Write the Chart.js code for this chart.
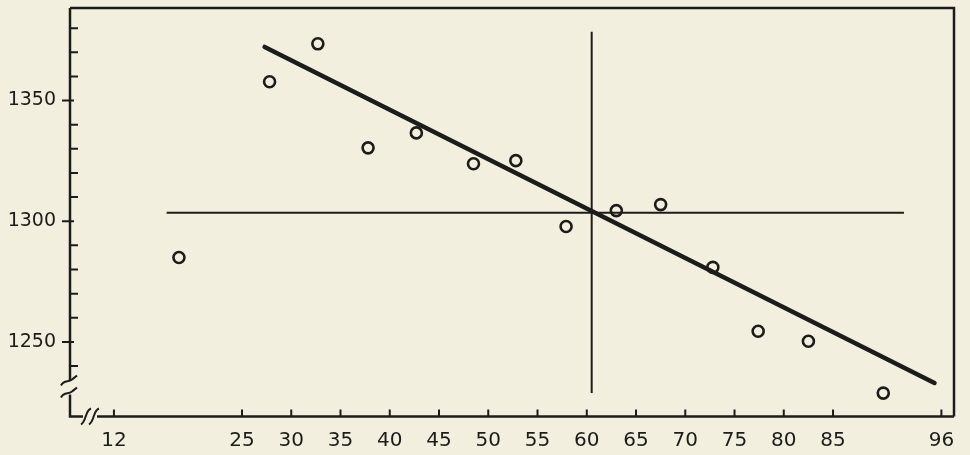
<!DOCTYPE html>
<html><head><meta charset="utf-8">
<script src="https://cdn.jsdelivr.net/npm/chart.js@4"></script>
<style>html,body{margin:0;padding:0;background:#f2efdf;}#wrap{width:970px;height:455px;}</style>
</head><body><div id="wrap"><canvas id="c" width="970" height="455"></canvas></div>
<script>
const classX = [18.6, 27.8, 32.7, 37.8, 42.7, 48.5, 52.8, 57.9, 63.0, 67.5, 72.8, 77.4, 82.5, 90.1];
const observedY = [1285.0, 1357.8, 1373.5, 1330.4, 1336.6, 1323.8, 1325.1, 1297.8, 1304.4, 1306.9, 1280.9, 1254.4, 1250.3, 1228.8];
// fitted regression line endpoints
const regressionX = [27.3, 95.3];
const regressionY = [1372.2, 1233.0];
// mean lines
const meanLineX = [17.35, 92.2];
const meanLineY = [1303.5, 1303.5];
const meanXLineX = [60.5, 60.5];
const meanXLineY = [1228.8, 1378.5];
// tick labels
const xTickValues = [12, 25, 30, 35, 40, 45, 50, 55, 60, 65, 70, 75, 80, 85, 96];
const yTickValues = [1250, 1300, 1350];
const yMinorTicks = [1240, 1260, 1270, 1280, 1290, 1310, 1320, 1330, 1340, 1360, 1370, 1380];

const INK = '#1c1c1a';
const BG = '#f2efdf';
const pts = (xs, ys) => xs.map((x, i) => ({x, y: ys[i]}));

const framePlugin = {
  id: 'frame',
  beforeDraw(chart) {
    const c = chart.ctx;
    c.save();
    c.fillStyle = BG;
    c.fillRect(0, 0, chart.width, chart.height);
    c.restore();
  },
  afterDraw(chart) {
    const c = chart.ctx, a = chart.chartArea;
    const xs = chart.scales.x, ys = chart.scales.y;
    c.save();
    c.strokeStyle = INK;
    c.lineCap = 'butt';
    c.lineWidth = 2.5;
    const L = a.left, R = a.right, T = a.top, B = a.bottom;
    c.beginPath();
    c.moveTo(L, T); c.lineTo(R, T); c.lineTo(R, B);
    c.moveTo(R, B); c.lineTo(L + 27, B);
    c.moveTo(L + 13, B); c.lineTo(L, B);
    c.lineTo(L, B - 22);
    c.moveTo(L, B - 36); c.lineTo(L, T);
    c.stroke();
    c.lineWidth = 2;
    c.beginPath();
    for (const dy of [-36, -24]) {
      const y = B + dy;
      c.moveTo(L - 9, y + 5);
      c.bezierCurveTo(L - 6, y - 1, L - 2, y + 2, L + 2, y - 1);
      c.bezierCurveTo(L + 4, y - 3, L + 6, y - 4, L + 7, y - 5);
    }
    for (const dx of [16, 24]) {
      const x = L + dx;
      c.moveTo(x - 5, B + 8);
      c.bezierCurveTo(x - 2, B + 6, x - 1, B + 2, x, B - 1);
      c.bezierCurveTo(x + 1, B - 4, x + 2, B - 7, x + 5, B - 8);
    }
    c.stroke();
    c.lineWidth = 2;
    c.beginPath();
    for (const v of xTickValues) {
      const px = xs.getPixelForValue(v);
      c.moveTo(px, B); c.lineTo(px, B - 7);
    }
    for (const v of yTickValues) {
      const py = ys.getPixelForValue(v);
      c.moveTo(L - 8, py); c.lineTo(L + 4, py);
    }
    for (const v of yMinorTicks) {
      const py = ys.getPixelForValue(v);
      c.moveTo(L, py); c.lineTo(L + 8, py);
    }
    c.stroke();
    c.restore();
  }
};

const fontY = {family: "'DejaVu Sans', sans-serif", size: 19};
const fontX = {family: "'DejaVu Sans', sans-serif", size: 20};

new Chart(document.getElementById('c'), {
  type: 'scatter',
  data: {
    datasets: [
      {label: 'observed', data: pts(classX, observedY), pointRadius: 5.5, pointBorderWidth: 2.6,
       pointBorderColor: INK, pointBackgroundColor: 'rgba(0,0,0,0)', showLine: false, order: 0},
      {label: 'regression', type: 'line', data: pts(regressionX, regressionY), borderColor: INK,
       borderWidth: 4.5, pointRadius: 0, borderCapStyle: 'round', order: 1},
      {label: 'mean y', type: 'line', data: pts(meanLineX, meanLineY), borderColor: INK,
       borderWidth: 2, pointRadius: 0, order: 2},
      {label: 'mean x', type: 'line', data: pts(meanXLineX, meanXLineY), borderColor: INK,
       borderWidth: 2, pointRadius: 0, order: 2}
    ]
  },
  options: {
    responsive: false,
    animation: false,
    events: [],
    layout: {padding: {top: 7, right: 16, left: 0, bottom: 0}},
    plugins: {legend: {display: false}, tooltip: {enabled: false}},
    scales: {
      x: {
        type: 'linear', min: 7.54, max: 97.28,
        grid: {display: false, drawTicks: false},
        border: {display: false},
        afterBuildTicks: s => { s.ticks = xTickValues.map(v => ({value: v})); },
        afterFit: s => { s.height = 38.5; s.paddingLeft = 0; s.paddingRight = 0; },
        ticks: {font: fontX, color: INK, padding: 12, maxRotation: 0, autoSkip: false,
                callback: v => String(v)}
      },
      y: {
        type: 'linear', min: 1219.1, max: 1388.3,
        grid: {display: false, drawTicks: false},
        border: {display: false},
        afterBuildTicks: s => { s.ticks = yTickValues.map(v => ({value: v})); },
        afterFit: s => { s.width = 70; s.paddingTop = 0; s.paddingBottom = 0; },
        ticks: {font: fontY, color: INK, padding: 14, autoSkip: false, callback: v => String(v)}
      }
    }
  },
  plugins: [framePlugin]
});
</script>
</body></html>
